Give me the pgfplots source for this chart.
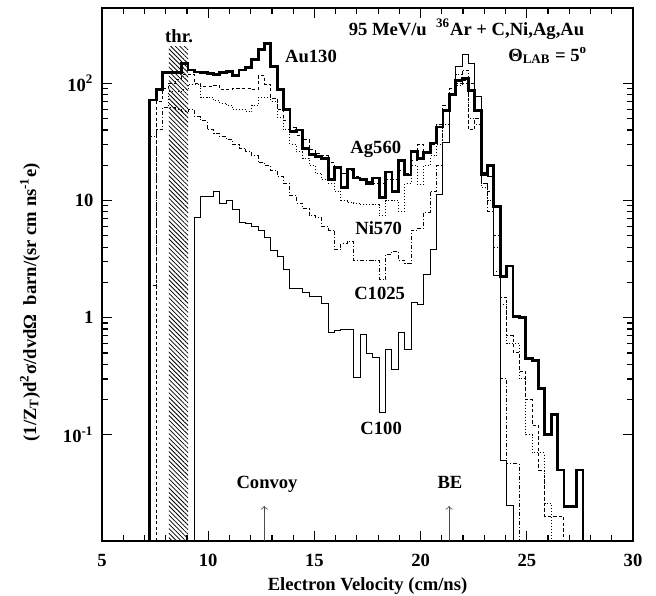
\documentclass[border=0pt]{standalone}
\usepackage{fontspec}
\setmainfont{Liberation Serif}
\usepackage{pgfplots}
\pgfplotsset{compat=1.18}
\usepackage{pgfplotstable}
\usetikzlibrary{patterns.meta}

% left bin edge (bin width 0.3 cm/ns); 0.001 = empty bin (below the axis)
\pgfplotstableread{
x     Au     Ag    Ni     Cc     Cb
7.25  0.001  0.001 0.001  0.001  0.001
7.25  72     0.001 35     1.9    0.001
7.55  89     70    40     40     0.001
7.85  123    90    62     62     0.001
8.15  123    100   85     62     0.001
8.45  123    108   85     60     0.001
8.75  147    118   88     58     0.001
9.05  130    120   98     60     0.001
9.35  125    100   98     52     7.1
9.65  123    94    76     48     10.9
9.95  121    94    76     40     10.9
10.25 120    96    72     37     12.0
10.55 123    89    68     35     9.4
10.85 126    89    65     33     10.1
11.15 117    91    60     30     8.4
11.45 130    91    60     28     6.5
11.75 136    91    57     26     6.35
12.05 160    89    65     24     6.0
12.35 195    116   76     21     5.6
12.65 220    98    76     20     4.8
12.95 140    75    70     18     3.76
13.25 89     60    51     16     3.3
13.55 60     48    40     14     2.57
13.85 39     42    30     11     1.79
14.15 40     36    26     9.5    1.76
14.45 28     33    23     8.5    1.65
14.75 24.7   27    20     7.5    1.52
15.05 23.9   25    17     7.1    1.52
15.35 23     24    15     6.0    1.32
15.65 15.1   21    14     5.6    0.75
15.95 19     19    12     3.8    0.78
16.25 13     17    10     4.3    0.80
16.55 18.6   18    9.6    4.5    0.80
16.85 15.6   16    9.4    3.1    0.31
17.15 15.1   15.5  9.2    3.1    0.725
17.45 13.9   14.5  9.2    3.1    0.49
17.75 15.6   14    9.2    3.1    0.46
18.05 10.6   14    7.4    2.1    0.155
18.35 17.5   15    10     3.45   0.54
18.65 12     15    10     3.7    0.36
18.95 22     18    8.1    3.1    0.75
19.25 16.5   17    14     2.9    0.54
19.55 26.3   22    20     5.6    1.34
19.85 22.7   30    13.7   5.8    1.3
20.15 25.8   25    20     7.9    2.33
20.45 31     30    24     12     3.8
20.75 42.5   45    30     20     11.3
21.05 59     65    60     45     31
21.35 80.5   90    80     80     80
21.65 105    100   95     120    140
21.95 110    105   100    130    177
22.25 87     40    50     100    148
22.55 59     50    45     60     78
22.85 16.8   14    13     14     17.3
23.15 20     12    10     8      16
23.45 8.9    5     4      2.5    2.3
23.75 2.25   1.5   1.3    0.3    0.06
24.05 2.76   0.7   0.6    0.057  0.025
24.35 1.02   0.5   0.6    0.057  0.001
24.65 1.0    0.35  0.3    0.001  0.001
24.95 0.45   0.2   0.1    0.001  0.001
25.25 0.43   0.12  0.07   0.001  0.001
25.55 0.25   0.05  0.07   0.001  0.001
25.85 0.1    0.02  0.026  0.001  0.001
26.15 0.148  0.02  0.001  0.001  0.001
26.45 0.05   0.02  0.001  0.001  0.001
26.75 0.0245 0.001 0.001  0.001  0.001
27.05 0.0245 0.001 0.001  0.001  0.001
27.35 0.05   0.001 0.001  0.001  0.001
27.65 0.001  0.001 0.001  0.001  0.001
}\spectra

\begin{document}
\fontsize{9.3}{11}\selectfont\bfseries
\begin{tikzpicture}
\begin{axis}[
  width=265.5pt, height=266.5pt, scale only axis,
  xmin=5, xmax=30, ymode=log, ymin=0.0124, ymax=440,
  xtick={5,10,...,30}, minor x tick num=4,
  ytick={0.1,1,10,100},
  yticklabels={10\textsuperscript{-1},1,10,10\textsuperscript{2}},
  /pgf/number format/assume math mode=true,
  tick align=inside, major tick length=5pt, minor tick length=2.8pt,
  axis line style={line width=1pt}, every tick/.style={line width=0.6pt, black},
  xticklabel style={yshift=-3.5pt}, yticklabel style={xshift=-1pt},
  xlabel={Electron Velocity (cm/ns)},
  xlabel style={at={(axis description cs:0.5,-0.0845)}, anchor=center},
  ylabel={(1/Z\textsubscript{T})d\textsuperscript{2}σ/dvdΩ\ \ barn/(sr cm ns\textsuperscript{-1}e)},
  ylabel style={at={(axis description cs:-0.1356,0.448)}, anchor=center},
  clip=true,
]
\coordinate (sw) at (rel axis cs:0,0);
\coordinate (ne) at (rel axis cs:1,1);
% threshold band
\addplot[draw=none, pattern={Lines[angle=-45, distance=1.6pt, line width=0.4pt]}]
  coordinates {(8.15,0.001) (8.15,208) (9.05,208) (9.05,0.001)} -- cycle;
\addplot[const plot mark left, line width=0.5pt] table[x=x,y=Cb] {\spectra};
\addplot[const plot mark left, line width=0.5pt, dash pattern=on 2pt off 1pt on 0.5pt off 1pt] table[x=x,y=Cc] {\spectra};
\addplot[const plot mark left, line width=0.5pt, dash pattern=on 0.5pt off 1pt] table[x=x,y=Ni] {\spectra};
\addplot[const plot mark left, line width=0.5pt, dash pattern=on 1.6pt off 1.2pt] table[x=x,y=Ag] {\spectra};
\addplot[const plot mark left, line width=1.4pt] table[x=x,y=Au] {\spectra};

\node at (axis cs:8.63,251) {thr.};
\node at (axis cs:14.84,170) {Au130};
\node at (axis cs:22.16,289) {95 MeV/u\ \ \textsuperscript{36}Ar + C,Ni,Ag,Au};
\node[anchor=base west, inner sep=0pt] at (axis cs:24.11,154) {Θ\textsubscript{LAB} = 5\textsuperscript{o}};
\node[anchor=base west, inner sep=0pt] at (axis cs:16.68,25.2) {Ag560};
\node[anchor=base west, inner sep=0pt] at (axis cs:16.91,5.12) {Ni570};
\node[anchor=base west, inner sep=0pt] at (axis cs:16.86,1.42) {C1025};
\node[anchor=base west, inner sep=0pt] at (axis cs:17.15,0.1) {C100};
\node[anchor=base, inner sep=0pt] at (axis cs:12.77,0.0345) {Convoy};
\node[anchor=base, inner sep=0pt] at (axis cs:21.38,0.0345) {BE};
\draw[->, line width=0.4pt, gray!60!black] (axis cs:12.64,0.0124) -- (axis cs:12.64,0.0247);
\draw[->, line width=0.4pt, gray!60!black] (axis cs:21.34,0.0124) -- (axis cs:21.34,0.0247);
\end{axis}
\pgfresetboundingbox
\path ([xshift=-51pt,yshift=-27pt]sw) rectangle ([xshift=11.5pt,yshift=4pt]ne);
\end{tikzpicture}
\end{document}
